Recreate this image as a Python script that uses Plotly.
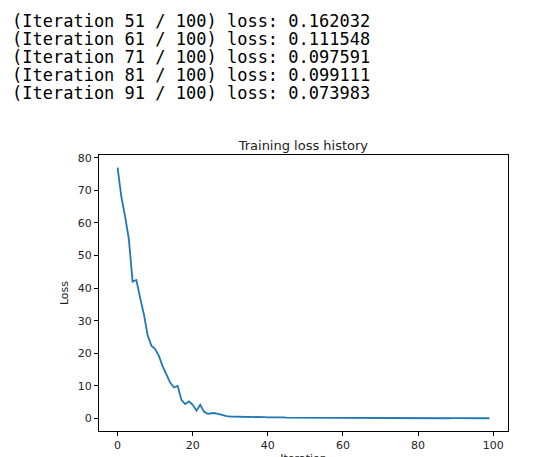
import plotly.graph_objects as go

log_lines = [
    "(Iteration 51 / 100) loss: 0.162032",
    "(Iteration 61 / 100) loss: 0.111548",
    "(Iteration 71 / 100) loss: 0.097591",
    "(Iteration 81 / 100) loss: 0.099111",
    "(Iteration 91 / 100) loss: 0.073983",
]
loss = [77.0, 68.0, 62.0, 55.0, 42.0, 42.5, 37.0, 32.0, 25.5, 22.3,
        21.3, 19.2, 16.0, 13.5, 11.0, 9.5, 10.0, 5.7, 4.4, 5.2,
        4.2, 2.4, 4.2, 2.1, 1.4, 1.6, 1.6, 1.3, 0.9, 0.7,
        0.6, 0.55, 0.5, 0.5, 0.45, 0.45, 0.42, 0.4, 0.4, 0.38,
        0.35, 0.4, 0.33, 0.3, 0.32, 0.28, 0.27, 0.3, 0.25, 0.24,
        0.2, 0.22, 0.2, 0.19, 0.18, 0.2, 0.17, 0.16, 0.17, 0.15,
        0.15, 0.14, 0.13, 0.14, 0.12, 0.12, 0.11, 0.12, 0.1, 0.11,
        0.1, 0.1, 0.09, 0.1, 0.09, 0.09, 0.1, 0.08, 0.09, 0.08,
        0.1, 0.09, 0.08, 0.08, 0.07, 0.08, 0.08, 0.07, 0.07, 0.08,
        0.07, 0.07, 0.08, 0.07, 0.07, 0.07, 0.07, 0.07, 0.07, 0.07]
iterations = list(range(len(loss)))

fig = go.Figure(go.Scatter(x=iterations, y=loss, mode="lines",
                           line=dict(color="#1f77b4", width=1.8)))
ax = dict(showgrid=False, zeroline=False, showline=True, mirror=True,
          linecolor="black", linewidth=1, ticks="outside", ticklen=4,
          tickcolor="black", tickfont=dict(size=11, color="#222"))
fig.update_layout(
    width=539, height=457, plot_bgcolor="white", paper_bgcolor="white",
    margin=dict(l=91, r=39, t=147, b=34, autoexpand=False), showlegend=False,
    font=dict(family="DejaVu Sans", color="#222"),
    title=dict(text="Training loss history", x=0.548, xanchor="center",
               y=1 - 137 / 457, yanchor="middle", font=dict(size=13)),
    xaxis=dict(**ax, range=[-4.95, 103.95], tickvals=[0, 20, 40, 60, 80, 100],
               title=dict(text="Iteration", font=dict(size=11), standoff=4)),
    yaxis=dict(**ax, range=[-3.85, 80.85], tickvals=[0, 10, 20, 30, 40, 50, 60, 70, 80],
               title=dict(text="Loss", font=dict(size=11), standoff=6)),
)
for i, t in enumerate(log_lines):
    fig.add_annotation(text=t, xref="paper", yref="paper", showarrow=False,
                       x=-89 / 409, xanchor="left",
                       y=1 + (147 - 13 - 18 * i) / 276, yanchor="middle",
                       font=dict(family="DejaVu Sans Mono", size=17, color="black"))
fig.write_html("out.html")
